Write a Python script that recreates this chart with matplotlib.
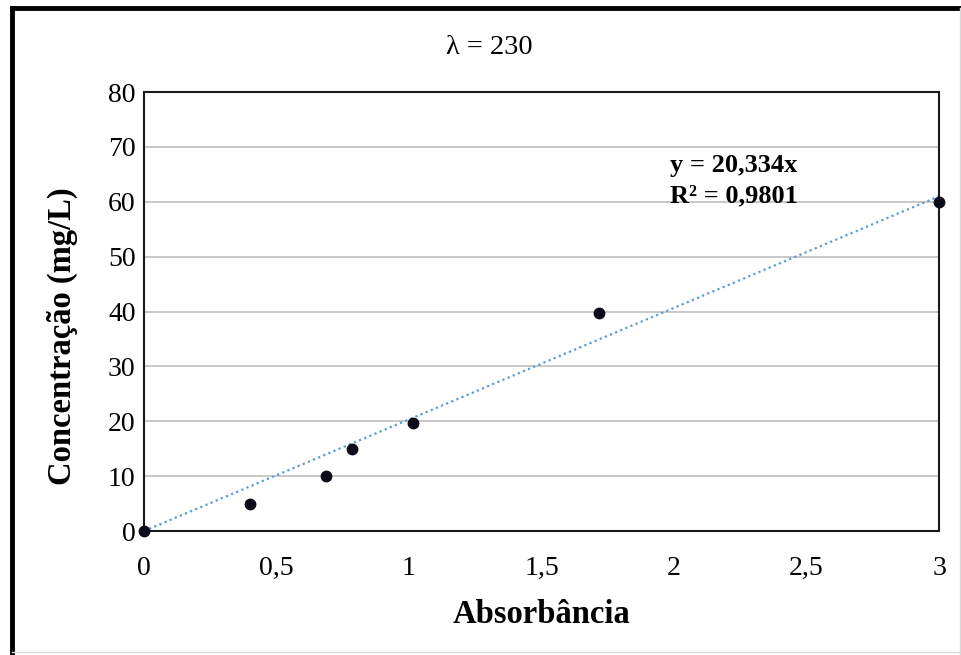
#!/usr/bin/env python3
import matplotlib.pyplot as plt
import numpy as np
from matplotlib.lines import Line2D

# Data
absorbancia = [0.0, 0.40, 0.687, 0.785, 1.015, 1.717, 3.0]
concentracao = [0.0, 5.0, 10.0, 15.0, 19.7, 39.8, 60.0]
slope = 20.334
x_ticks = [0, 0.5, 1, 1.5, 2, 2.5, 3]
x_tick_labels = ['0', '0,5', '1', '1,5', '2', '2,5', '3']
y_ticks = [0, 10, 20, 30, 40, 50, 60, 70, 80]

plt.rcParams['font.family'] = ['Liberation Serif', 'DejaVu Serif']

fig = plt.figure(figsize=(9.62, 6.55), dpi=100)
ax = fig.add_axes([0.1497, 0.1893, 0.8264, 0.6702])

# gridlines
ax.set_axisbelow(True)
ax.yaxis.grid(True, color='#bfbfbf', linewidth=1.2)

# trendline through origin
xt = np.array([0, 3])
ax.plot(xt, slope * xt, linestyle=(0, (1, 1.5)), color='#5b9bd5', linewidth=1.6, zorder=2)

# data points
ax.plot(absorbancia, concentracao, 'o', color='#0b0b1a', markersize=7.5, zorder=3, clip_on=False)

ax.set_xlim(0, 3)
ax.set_ylim(0, 80)
ax.set_xticks(x_ticks)
ax.set_xticklabels(x_tick_labels)
ax.set_yticks(y_ticks)
ax.tick_params(length=0, labelsize=20)
ax.tick_params(axis='x', pad=18)
ax.tick_params(axis='y', pad=6)

for s in ax.spines.values():
    s.set_color('#1a1a1a')
    s.set_linewidth(1.5)

ax.set_xlabel('Absorbância', fontsize=23.5, fontweight='bold', labelpad=13)
ax.set_ylabel('Concentração (mg/L)', fontsize=23.5, fontweight='bold')
ax.yaxis.set_label_coords(-0.083, 0.444)

fig.text(0.509, 0.928, 'λ = 230', ha='center', va='center', fontsize=20.5)

ax.text(0.662, 0.818, 'y = 20,334x', transform=ax.transAxes,
        fontsize=19, fontweight='bold', va='baseline', ha='left')
ax.text(0.662, 0.749, 'R² = 0,9801', transform=ax.transAxes,
        fontsize=19, fontweight='bold', va='baseline', ha='left')

# outer chart border
fig.add_artist(Line2D([0.012, 0.012], [0.0, 0.988], transform=fig.transFigure,
                      color='black', linewidth=3.5))
fig.add_artist(Line2D([0.012, 1.0], [0.988, 0.988], transform=fig.transFigure,
                      color='black', linewidth=3.5))
fig.add_artist(Line2D([0.998, 0.998], [0.0, 0.988], transform=fig.transFigure,
                      color='#d9d9d9', linewidth=1))
fig.add_artist(Line2D([0.012, 1.0], [0.004, 0.004], transform=fig.transFigure,
                      color='#d9d9d9', linewidth=1))

fig.savefig('out.png', dpi=100)
